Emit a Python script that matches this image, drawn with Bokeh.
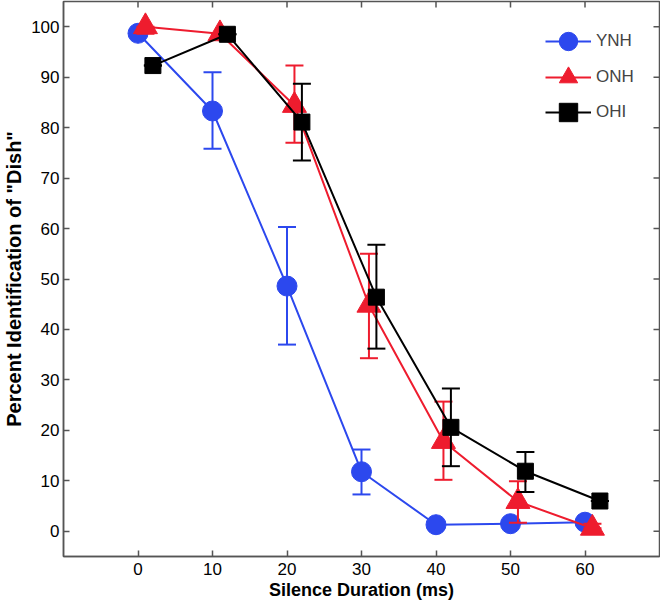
from bokeh.plotting import figure
from bokeh.models import Range1d, FixedTicker, Legend, LegendItem
from bokeh.embed import file_html
from bokeh.resources import INLINE

# ---- data ----
x_ticks = [0, 10, 20, 30, 40, 50, 60]
y_ticks = [0, 10, 20, 30, 40, 50, 60, 70, 80, 90, 100]

ynh_x = [0, 10, 20, 30, 40, 50, 60]
ynh_y = [98.7, 83.3, 48.6, 11.8, 1.3, 1.5, 1.8]
ynh_lo = [98.7, 75.8, 37.0, 7.3, 1.3, 1.5, 1.8]
ynh_hi = [98.7, 91.0, 60.3, 16.2, 1.3, 1.5, 1.8]

onh_x = [1, 11, 21, 31, 41, 51, 61]
onh_y = [100.0, 98.6, 84.4, 44.8, 17.8, 5.9, 0.6]
onh_lo = [98.6, 98.6, 77.0, 34.3, 10.2, 1.7, 0.6]
onh_hi = [100.0, 98.6, 92.3, 55.0, 25.7, 9.9, 1.5]

ohi_x = [2, 12, 22, 32, 42, 52, 62]
ohi_y = [92.3, 98.5, 81.1, 46.4, 20.6, 11.9, 6.0]
ohi_lo = [92.3, 98.5, 73.5, 36.2, 12.9, 7.8, 6.0]
ohi_hi = [92.3, 98.5, 88.7, 56.8, 28.3, 15.7, 6.0]

series = [
    ("YNH", ynh_x, ynh_y, ynh_lo, ynh_hi, "#2c48ee", "circle", 20),
    ("ONH", onh_x, onh_y, onh_lo, onh_hi, "#ee1c2e", "triangle", 24),
    ("OHI", ohi_x, ohi_y, ohi_lo, ohi_hi, "#000000", "square", 16),
]

FONT = "Liberation Sans"
AX = "#555555"
FW, FH = 596, 555
TICK_PX = 6

p = figure(frame_width=FW, frame_height=FH, x_range=Range1d(-10, 70), y_range=Range1d(-5, 105),
           output_backend="svg", toolbar_location=None,
           min_border_left=0, min_border_top=1, min_border_right=1, min_border_bottom=0)
p.grid.visible = False
p.outline_line_color = AX
p.outline_line_width = 1.5
p.background_fill_color = "white"
p.border_fill_color = "white"

for ax, ticks in ((p.xaxis[0], x_ticks), (p.yaxis[0], y_ticks)):
    ax.ticker = FixedTicker(ticks=ticks)
    ax.major_tick_in = TICK_PX
    ax.major_tick_out = 0
    ax.minor_tick_line_color = None
    ax.axis_line_color = AX
    ax.axis_line_width = 1.5
    ax.major_tick_line_color = AX
    ax.major_tick_line_width = 1.5
    ax.major_label_text_font = FONT
    ax.major_label_text_font_size = "17px"
    ax.major_label_text_color = "black"
    ax.axis_label_text_font = FONT
    ax.axis_label_text_font_style = "bold"
    ax.axis_label_text_color = "black"

p.xaxis.axis_label = "Silence Duration (ms)"
p.yaxis.axis_label = 'Percent Identification of "Dish"'
p.xaxis.axis_label_text_font_size = "18px"
p.yaxis.axis_label_text_font_size = "20px"
p.xaxis.major_label_standoff = 6
p.xaxis.axis_label_standoff = 2
p.yaxis.major_label_standoff = 4
p.yaxis.axis_label_standoff = 3

# mirrored inward ticks on the top and right edges
x0, x1 = p.x_range.start, p.x_range.end
y0, y1 = p.y_range.start, p.y_range.end
dy = TICK_PX * (y1 - y0) / FH
dx = TICK_PX * (x1 - x0) / FW
p.segment(x0=x_ticks, y0=[y1] * len(x_ticks), x1=x_ticks, y1=[y1 - dy] * len(x_ticks),
          line_color=AX, line_width=1.5)
p.segment(x0=[x1] * len(y_ticks), y0=y_ticks, x1=[x1 - dx] * len(y_ticks), y1=y_ticks,
          line_color=AX, line_width=1.5)

legend_rows = [490, 454, 419]
for (name, xs, ys, lo, hi, col, mk, sz), ly in zip(series, legend_rows):
    p.segment(x0=xs, y0=lo, x1=xs, y1=hi, line_color=col, line_width=2)
    p.scatter(x=xs, y=lo, marker="dash", size=18, line_color=col, line_width=2)
    p.scatter(x=xs, y=hi, marker="dash", size=18, line_color=col, line_width=2)
    lr = p.line(x=xs, y=ys, line_color=col, line_width=2)
    mr = p.scatter(x=xs, y=ys, marker=mk, size=sz, fill_color=col, line_color=col)
    lg = Legend(items=[LegendItem(label=name, renderers=[lr, mr])], location=(482, ly),
                border_line_alpha=0, background_fill_alpha=0, glyph_width=46, glyph_height=50,
                margin=0, padding=0, label_standoff=5,
                label_text_font=FONT, label_text_font_size="17px")
    p.add_layout(lg)

open("out.html", "w").write(file_html(p, INLINE))
